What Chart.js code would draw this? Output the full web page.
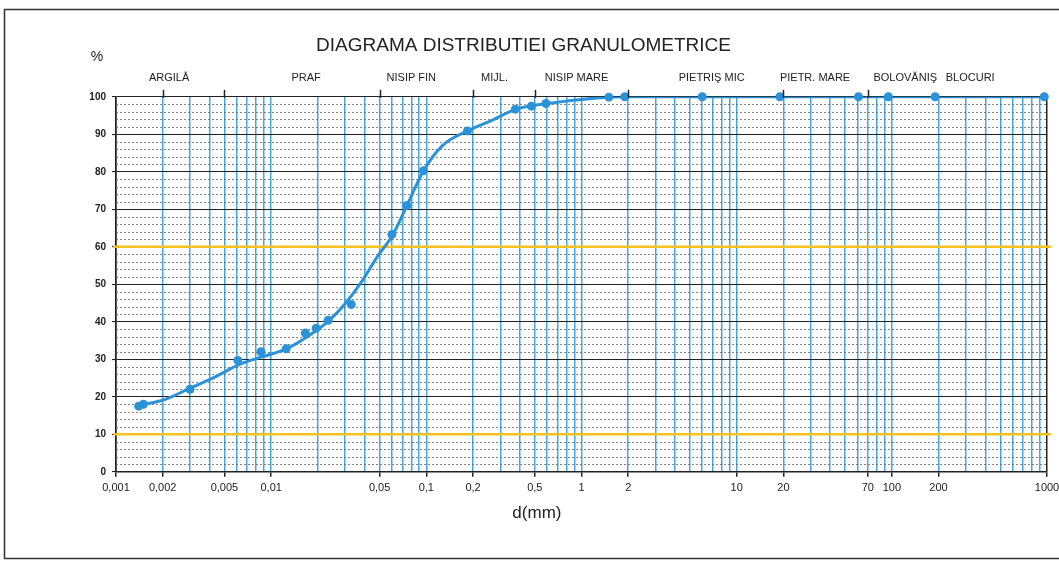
<!DOCTYPE html>
<html lang="ro">
<head>
<meta charset="utf-8">
<title>Diagrama distributiei granulometrice</title>
<script src="https://cdn.jsdelivr.net/npm/chart.js@4.4.1/dist/chart.umd.min.js"></script>
<style>
  html, body { margin: 0; padding: 0; background: #fff; }
  #wrap { position: relative; width: 1059px; height: 564px; }
</style>
</head>
<body>
<div id="wrap"><canvas id="granChart"></canvas></div>
<script>
/* ===== DATA ===== */
// measured points: diameter (mm) and % passing
const sampleD   = [0.0014, 0.0015, 0.003, 0.0061, 0.0086, 0.0125, 0.0166, 0.0195, 0.0233, 0.0328,
                   0.060, 0.075, 0.096, 0.184, 0.375, 0.475, 0.59, 1.5, 1.9, 6, 19, 61, 95, 190, 960];
const samplePct = [17.5, 18, 22, 29.7, 32, 32.8, 37, 38.3, 40.4, 44.6,
                   63.3, 71, 80.3, 90.9, 96.7, 97.5, 98.2, 99.9, 100, 100, 100, 100, 100, 100, 100];

// hand drawn smooth curve
const curveD   = [0.00135, 0.0021, 0.003, 0.0044, 0.0062, 0.0088, 0.0125, 0.0166, 0.0237, 0.0305, 0.038,
                  0.048, 0.061, 0.075, 0.096, 0.127, 0.184, 0.267, 0.38, 0.6, 1.0, 1.5, 2, 1000];
const curvePct = [17.5, 19.4, 22.3, 25.4, 28.6, 30.7, 32.8, 35.7, 40.4, 45.2, 50.5,
                  57.2, 63.3, 71.0, 80.3, 87.0, 90.9, 93.8, 96.7, 98.2, 99.3, 99.9, 100, 100];

const xTickValues = [0.001, 0.002, 0.005, 0.01, 0.05, 0.1, 0.2, 0.5, 1, 2, 10, 20, 70, 100, 200, 1000];
const xTickLabels = ['0,001', '0,002', '0,005', '0,01', '0,05', '0,1', '0,2', '0,5', '1', '2', '10', '20', '70', '100', '200', '1000'];

const zoneNames   = ['ARGILĂ', 'PRAF', 'NISIP FIN', 'MIJL.', 'NISIP MARE', 'PIETRIŞ MIC', 'PIETR. MARE', 'BOLOVĂNIŞ', 'BLOCURI'];
const zoneCenters = [0.0022, 0.0168, 0.080, 0.275, 0.93, 6.9, 32, 122, 320];
const zoneBounds  = [0.002, 0.005, 0.05, 0.2, 0.5, 2, 20, 70];

const guideLevels = [10, 60];

/* ===== COLOURS ===== */
const INK = '#222';
const BLUE = '#2b92d8';
const GRID_BLUE = '#45a6e0';
const YELLOW = '#f5c21f';

// log paper: a vertical line at every 1..9 x 10^n
const gridValues = [];
for (let e = -3; e <= 2; e++) {
  for (let k = 1; k <= 9; k++) gridValues.push(+(k * Math.pow(10, e)).toPrecision(3));
}
gridValues.push(1000);

const sameVal = (a, b) => Math.abs(Math.log10(a) - Math.log10(b)) < 1e-6;
const labelFor = v => {
  const i = xTickValues.findIndex(t => sameVal(t, v));
  return i < 0 ? '' : xTickLabels[i];
};

/* ===== PAPER PLUGIN ===== */
const paperPlugin = {
  id: 'paper',
  beforeDraw(chart) {
    const { ctx } = chart;
    ctx.save();
    ctx.fillStyle = '#fff';
    ctx.fillRect(0, 0, chart.width, chart.height);
    ctx.strokeStyle = '#333';
    ctx.lineWidth = 1.5;
    ctx.strokeRect(4.5, 9.5, chart.width + 20, 549);
    ctx.restore();
  },
  beforeDatasetsDraw(chart) {
    const { ctx, chartArea: a, scales: { y } } = chart;
    ctx.save();
    // dotted 2% lines
    ctx.strokeStyle = '#666';
    ctx.lineWidth = 0.8;
    ctx.setLineDash([2, 2]);
    for (let v = 2; v < 100; v += 2) {
      if (v % 10 === 0) continue;
      const py = Math.round(y.getPixelForValue(v)) + 0.5;
      ctx.beginPath(); ctx.moveTo(a.left, py); ctx.lineTo(a.right, py); ctx.stroke();
    }
    ctx.setLineDash([]);
    // yellow guides (D10 / D60)
    ctx.strokeStyle = YELLOW;
    ctx.lineWidth = 2.5;
    guideLevels.forEach(v => {
      const py = y.getPixelForValue(v);
      ctx.beginPath(); ctx.moveTo(a.left - 3, py); ctx.lineTo(a.right + 4, py); ctx.stroke();
    });
    ctx.restore();
  },
  afterDraw(chart) {
    const { ctx, chartArea: a, scales: { x } } = chart;
    ctx.save();
    // zone boundaries above the 100 line
    ctx.strokeStyle = INK;
    ctx.lineWidth = 1.5;
    zoneBounds.forEach(b => {
      const px = Math.round(x.getPixelForValue(b)) + 0.5;
      ctx.beginPath(); ctx.moveTo(px, a.top - 7); ctx.lineTo(px, a.top + 1); ctx.stroke();
    });
    ctx.fillStyle = INK;
    ctx.textAlign = 'center';
    ctx.textBaseline = 'middle';
    ctx.font = "11px 'Liberation Sans', Arial, sans-serif";
    zoneNames.forEach((name, i) => ctx.fillText(name, x.getPixelForValue(zoneCenters[i]), a.top - 19));
    ctx.font = "14px 'Liberation Sans', Arial, sans-serif";
    ctx.fillText('%', a.left - 19, 57);
    ctx.font = "17px 'Liberation Sans', Arial, sans-serif";
    ctx.fillText('d(mm)', chart.width * 0.507, 513);
    ctx.restore();
  }
};

/* ===== CHART ===== */
Chart.defaults.font.family = "'Liberation Sans', Arial, sans-serif";
Chart.defaults.color = INK;

new Chart(document.getElementById('granChart'), {
  type: 'scatter',
  data: {
    datasets: [{
      label: 'Curba granulometrica',
      data: curveD.map((d, i) => ({ x: d, y: curvePct[i] })),
      showLine: true,
      borderColor: BLUE,
      borderWidth: 3,
      pointRadius: 0,
      cubicInterpolationMode: 'monotone',
      fill: false,
    }, {
      label: 'Puncte',
      data: sampleD.map((d, i) => ({ x: d, y: samplePct[i] })),
      pointRadius: 4.5,
      pointBackgroundColor: BLUE,
      pointBorderWidth: 0,
      clip: false,
    }]
  },
  options: {
    responsive: true,
    maintainAspectRatio: false,
    animation: false,
    layout: { padding: { left: 0, right: 12, top: 0, bottom: 64 } },
    scales: {
      x: {
        type: 'logarithmic',
        min: 0.001,
        max: 1000,
        afterBuildTicks: s => { s.ticks = gridValues.map(v => ({ value: v })); },
        afterFit: s => { s.paddingLeft = 0; s.paddingRight = 0; },
        ticks: { autoSkip: false, maxRotation: 0, padding: 5, font: { size: 11 }, callback: v => labelFor(v) },
        grid: {
          color: c => (sameVal(c.tick.value, 0.001) || sameVal(c.tick.value, 1000)) ? INK : GRID_BLUE,
          lineWidth: 1.5,
          tickLength: 5,
          tickColor: c => labelFor(c.tick.value) ? INK : 'rgba(0,0,0,0)',
        },
        border: { color: INK, width: 1.5 }
      },
      y: {
        min: 0,
        max: 100,
        afterFit: s => { s.width = 116; },
        ticks: { stepSize: 10, padding: 6, font: { size: 10, weight: 'bold' } },
        grid: { color: INK, lineWidth: 1.1, tickLength: 4 },
        border: { color: INK, width: 1.5 }
      }
    },
    plugins: {
      legend: { display: false },
      tooltip: { enabled: false },
      title: {
        display: true,
        text: 'DIAGRAMA DISTRIBUTIEI GRANULOMETRICE',
        color: INK,
        font: { size: 19, weight: 'normal' },
        padding: { top: 34, bottom: 40 }
      }
    }
  },
  plugins: [paperPlugin]
});
</script>
</body>
</html>
